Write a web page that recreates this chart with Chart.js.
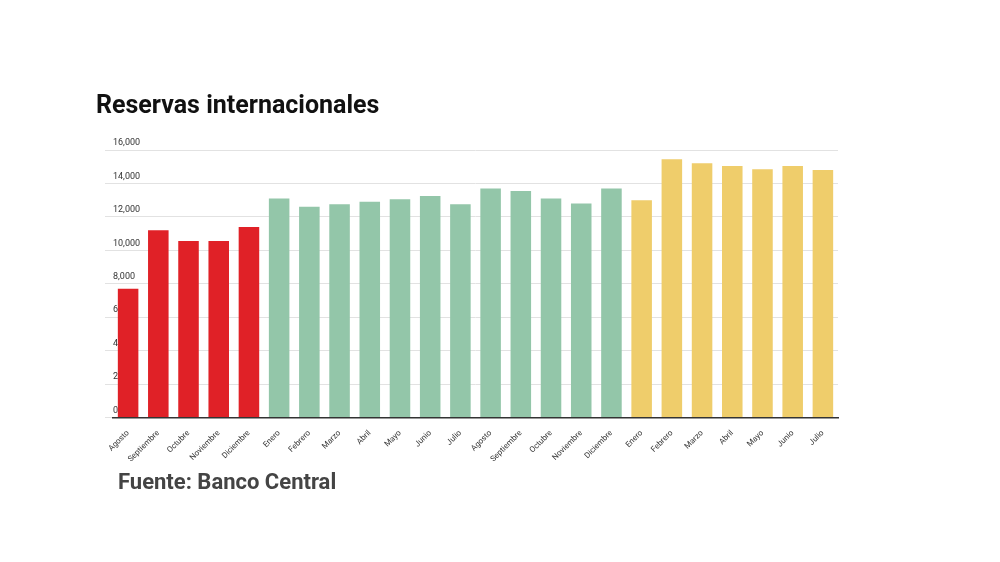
<!DOCTYPE html>
<html><head><meta charset="utf-8">
<script src="https://cdn.jsdelivr.net/npm/chart.js@4"></script>
<style>
body{margin:0;width:1000px;height:562px;background:#fff;font-family:Roboto,sans-serif;position:relative;overflow:hidden}
#title{position:absolute;left:96px;top:90px;font-size:25px;font-weight:bold;color:#111}
#src{position:absolute;left:118px;top:469px;font-size:22px;font-weight:bold;color:#444}
#wrap{position:absolute;left:0;top:0;width:1000px;height:562px}
</style></head><body>
<div id="wrap"><canvas id="c"></canvas></div>
<div id="title">Reservas internacionales</div>
<div id="src">Fuente: Banco Central</div>
<script>
const labels = ["Agosto","Septiembre","Octubre","Noviembre","Diciembre","Enero","Febrero","Marzo","Abril","Mayo","Junio","Julio","Agosto","Septiembre","Octubre","Noviembre","Diciembre","Enero","Febrero","Marzo","Abril","Mayo","Junio","Julio"];
const values = [7700,11200,10550,10550,11400,13100,12600,12750,12900,13050,13250,12750,13700,13550,13100,12800,13700,13000,15450,15200,15050,14850,15050,14800];
const colorGroups = [5, 12, 7];
const groupColors = ["#e02127","#93c6a9","#efcd6b"];
const colors = [];
colorGroups.forEach((n, g) => { for (let i = 0; i < n; i++) colors.push(groupColors[g]); });

new Chart(document.getElementById("c"), {
  type: "bar",
  data: { labels, datasets: [{ data: values, backgroundColor: colors, barPercentage: 0.68, categoryPercentage: 1 }] },
  options: {
    responsive: true, maintainAspectRatio: false, animation: false,
    layout: { padding: { left: 105, right: 162, top: 150, bottom: 95 } },
    plugins: { legend: { display: false }, tooltip: { enabled: false } },
    scales: {
      x: {
        grid: { display: false },
        border: { color: "#333", width: 1.5 },
        ticks: { font: { family: "Roboto", size: 8 }, color: "#333", maxRotation: 45, minRotation: 45, autoSkip: false }
      },
      y: {
        min: 0, max: 16000,
        grid: { color: "#e2e2e2" },
        border: { display: false },
        ticks: { stepSize: 2000, mirror: true, labelOffset: -7, padding: 0, font: { family: "Roboto", size: 9 }, color: "#333" }
      }
    }
  }
});
</script>
</body></html>
